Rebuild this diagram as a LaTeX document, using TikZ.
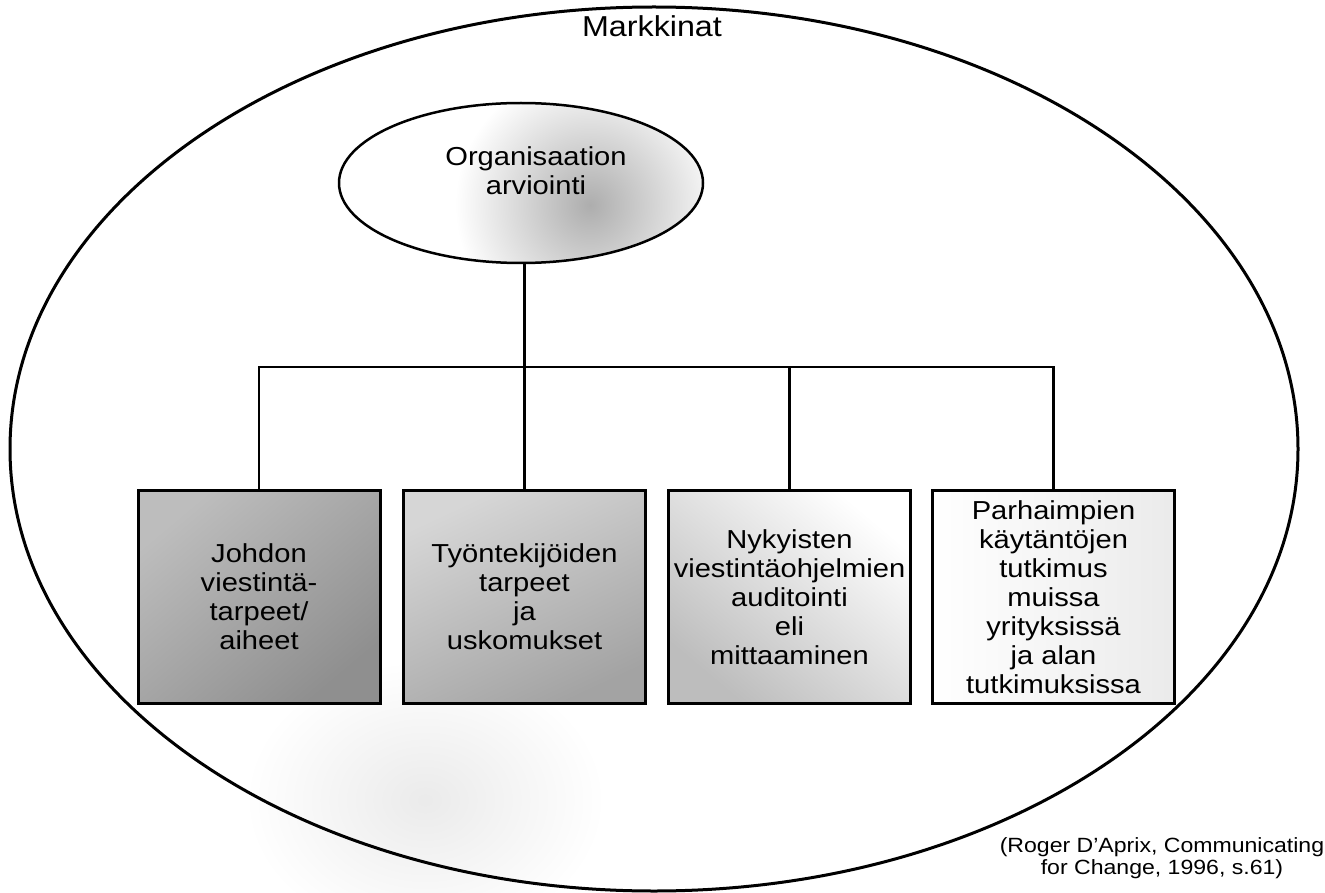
\documentclass[tikz,border=0pt]{standalone}
\usepackage{fontspec}
\setmainfont[FakeStretch=1.12]{Liberation Sans}
\usetikzlibrary{shapes.geometric}

\tikzset{
  frame/.style={line width=3pt},
  link/.style={line width=2.3pt},
  bodytext/.style={align=center, inner sep=0pt, font=\fontsize{26}{29}\selectfont},
  topicbox/.style={draw, line width=3pt, minimum width=242pt, minimum height=213pt,
    inner sep=2pt, align=center, font=\fontsize{26}{29}\selectfont},
  citetext/.style={align=center, inner sep=0pt, font=\fontsize{20.6}{22}\selectfont}
}

\begin{document}
\begin{tikzpicture}[x=1pt,y=-1pt]
\useasboundingbox (0,0) rectangle (1325,893);

% faint grey haze under the boxes
\shade[inner color=black!8, outer color=white] (425,800) ellipse [x radius=180pt, y radius=140pt];

% the market: outer ellipse
\node[draw, ellipse, frame, minimum width=1288pt, minimum height=884pt, inner sep=0pt] (market) at (654,449) {};
\node[font=\fontsize{28.8}{30}\selectfont, anchor=base, inner sep=0pt] (markettext) at (652,37) {Markkinat};

% organisation ellipse with its grey patch
\begin{scope}
  \clip (521,183) ellipse [x radius=182pt, y radius=80pt];
  \shade[inner color=black!32, outer color=white] (590,205) circle [radius=135pt];
\end{scope}
\node[draw, ellipse, line width=2.5pt, minimum width=364pt, minimum height=160pt, inner sep=0pt] (org) at (521,183) {};
\node[bodytext] (orgtext) at (536,171) {Organisaation\\arviointi};

% the four areas of assessment
\node[topicbox, shade, top color=black!26, bottom color=black!44, shading angle=40] (b1) at (259,597)
  {Johdon\\viestintä-\\tarpeet/\\aiheet};
\node[topicbox, shade, top color=black!16, bottom color=black!36, shading angle=25] (b2) at (524.5,597)
  {Työntekijöiden\\tarpeet\\ja\\uskomukset};
\node[topicbox, shade, top color=white, bottom color=black!26, shading angle=-40] (b3) at (789.5,597)
  {Nykyisten\\viestintäohjelmien\\auditointi\\eli\\mittaaminen};
\node[topicbox, shade, left color=white, right color=black!8] (b4) at (1053.5,597)
  {Parhaimpien\\käytäntöjen\\tutkimus\\muissa\\yrityksissä\\ja alan\\tutkimuksissa};

% connectors
\coordinate (bus) at (0,367);
\draw[link] (org.south -| b2.north) -- (b2.north);
\draw[link] (b1.north) -- (b1.north |- bus) -- (b4.north |- bus) -- (b4.north);
\draw[link] (b3.north) -- (b3.north |- bus);

% source
\node[citetext] (source) at (1162,858) {(Roger D’Aprix, Communicating\\for Change, 1996, s.61)};
\end{tikzpicture}
\end{document}
